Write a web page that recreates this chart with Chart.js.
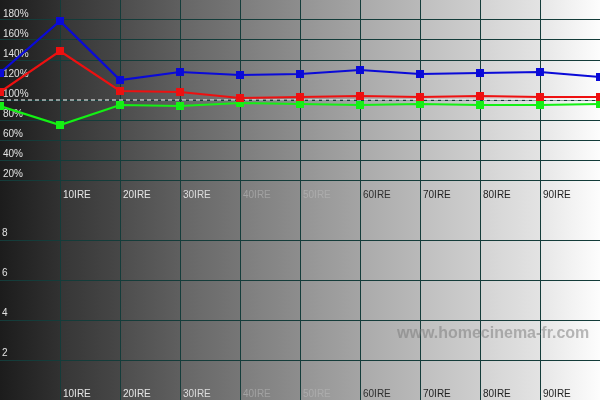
<!DOCTYPE html>
<html>
<head>
<meta charset="utf-8">
<script src="https://cdn.jsdelivr.net/npm/chart.js@4.4.1/dist/chart.umd.min.js"></script>
<style>
html,body{margin:0;padding:0;background:#ffffff;overflow:hidden}
#wrap{width:600px;height:400px;position:relative}
</style>
</head>
<body>
<div id="wrap"><canvas id="c"></canvas></div>
<script>
// ---- data ----
const ireLevels   = [0, 10, 20, 30, 40, 50, 60, 70, 80, 90, 100];
const redValues   = [108, 149, 109, 108, 102, 103, 104, 103, 104, 103, 103];
const greenValues = [94, 75, 95, 94, 97, 96, 95, 96, 95, 95, 96];
const blueValues  = [127, 179, 120, 128, 125, 126, 130, 126, 127, 128, 123];
const targetValues = [100, 100, 100, 100, 100, 100, 100, 100, 100, 100, 100];
const percentTicks = [180, 160, 140, 120, 100, 80, 60, 40, 20];
const deltaTicks = [8, 6, 4, 2];
const ireTickValues = [10, 20, 30, 40, 50, 60, 70, 80, 90];
const ireTickLabels = ['10IRE', '20IRE', '30IRE', '40IRE', '50IRE', '60IRE', '70IRE', '80IRE', '90IRE'];
const watermarkText = 'www.homecinema-fr.com';

// ---- style ----
const gridColor = '#143c3a';
const bandShades = [
  ['#1c1c1c', '#313131'], ['#363636', '#474747'], ['#4d4d4d', '#5f5f5f'],
  ['#666666', '#767676'], ['#7d7d7d', '#8d8d8d'], ['#949494', '#a4a4a4'],
  ['#aaaaaa', '#b9b9b9'], ['#bfbfbf', '#cecece'], ['#d3d3d3', '#e3e3e3'],
  ['#e6e6e6', '#fdfdfd']
];
const ireLabelColors = ['#e6e6e6', '#e6e6e6', '#dddddd', '#a2a2a2', '#acacac', '#2e2e2e', '#1e1e1e', '#1e1e1e', '#1e1e1e'];
const labelFont = '10px "Liberation Sans", Arial, sans-serif';

const backgroundPlugin = {
  id: 'bands',
  beforeDraw(chart) {
    const {ctx, chartArea, scales} = chart;
    const xs = scales.x;
    ctx.save();
    for (let i = 0; i < bandShades.length; i++) {
      const x0 = xs.getPixelForValue(i * 10);
      const x1 = xs.getPixelForValue((i + 1) * 10);
      const g = ctx.createLinearGradient(x0, 0, x1, 0);
      g.addColorStop(0, bandShades[i][0]);
      g.addColorStop(1, bandShades[i][1]);
      ctx.fillStyle = g;
      ctx.fillRect(x0, chartArea.top, x1 - x0, chartArea.bottom - chartArea.top);
    }
    ctx.restore();
  }
};

const labelPlugin = {
  id: 'ireLabels',
  beforeDatasetsDraw(chart) {
    const {ctx, scales} = chart;
    const xs = scales.x, yTop = scales.y, yBot = scales.y2;
    ctx.save();
    ctx.font = labelFont;
    ctx.textAlign = 'left';
    ctx.textBaseline = 'middle';
    const rowTop = yTop.bottom - 5;
    const rowBot = yBot.bottom - 6;
    ireTickValues.forEach((v, i) => {
      const px = xs.getPixelForValue(v) + 3;
      ctx.fillStyle = ireLabelColors[i];
      ctx.fillText(ireTickLabels[i], px, rowTop);
      ctx.fillText(ireTickLabels[i], px, rowBot);
    });
    // watermark
    ctx.font = 'bold 16px "Liberation Sans", Arial, sans-serif';
    ctx.fillStyle = 'rgba(120,120,120,0.5)';
    ctx.fillText(watermarkText, 397, 334);
    ctx.restore();
  }
};

function lineSet(label, data, color) {
  return {
    label, data: ireLevels.map((x, i) => ({x, y: data[i]})),
    borderColor: color, backgroundColor: color,
    borderWidth: 2.2, pointStyle: 'rect', pointRadius: 5.7, pointHoverRadius: 5.7,
    pointBorderWidth: 0, tension: 0, yAxisID: 'y'
  };
}

function flatFit(s) { s.width = 0; s.paddingTop = 0; s.paddingBottom = 0; s.paddingLeft = 0; s.paddingRight = 0; }

new Chart(document.getElementById('c'), {
  type: 'line',
  data: {
    datasets: [
      lineSet('Bleu', blueValues, '#0a0ad8'),
      lineSet('Rouge', redValues, '#ee1010'),
      lineSet('Vert', greenValues, '#14f014'),
      {
        label: 'Cible', data: ireLevels.map((x, i) => ({x, y: targetValues[i]})),
        borderColor: '#ffffff', borderWidth: 1, borderDash: [4, 3],
        pointRadius: 0, yAxisID: 'y'
      }
    ]
  },
  options: {
    responsive: true,
    maintainAspectRatio: false,
    animation: false,
    events: [],
    layout: {padding: 0, autoPadding: false},
    plugins: {legend: {display: false}, tooltip: {enabled: false}, title: {display: false}},
    scales: {
      x: {
        type: 'linear', min: 0, max: 100,
        ticks: {display: false, stepSize: 10},
        grid: {
          drawTicks: false, lineWidth: 1,
          color: c => (c.tick && ireTickValues.includes(c.tick.value)) ? gridColor : 'rgba(0,0,0,0)'
        },
        border: {display: false}
      },
      y: {
        type: 'linear', position: 'left', stack: 'v', stackWeight: 1, weight: 2,
        min: 0, max: 200,
        afterFit: flatFit,
        ticks: {
          mirror: true, padding: 3, stepSize: 20, autoSkip: false, labelOffset: -6,
          color: '#e2e2e2', font: {family: '"Liberation Sans", Arial, sans-serif', size: 10},
          callback: v => percentTicks.includes(v) ? v + '%' : ''
        },
        grid: {
          drawTicks: false, lineWidth: 1,
          color: c => (c.tick && c.tick.value > 0 && c.tick.value < 200 && c.tick.value !== 120) ? gridColor : 'rgba(0,0,0,0)'
        },
        border: {display: false}
      },
      y2: {
        type: 'linear', position: 'left', stack: 'v', stackWeight: 1, weight: 1,
        min: 0, max: 10,
        afterFit: flatFit,
        ticks: {
          mirror: true, padding: 2, stepSize: 2, autoSkip: false, labelOffset: -7,
          color: '#e2e2e2', font: {family: '"Liberation Sans", Arial, sans-serif', size: 10},
          callback: v => deltaTicks.includes(v) ? String(v) : ''
        },
        grid: {
          drawTicks: false, lineWidth: 1,
          color: c => (c.tick && deltaTicks.includes(c.tick.value)) ? gridColor : 'rgba(0,0,0,0)'
        },
        border: {display: false}
      }
    }
  },
  plugins: [backgroundPlugin, labelPlugin]
});
</script>
</body>
</html>
